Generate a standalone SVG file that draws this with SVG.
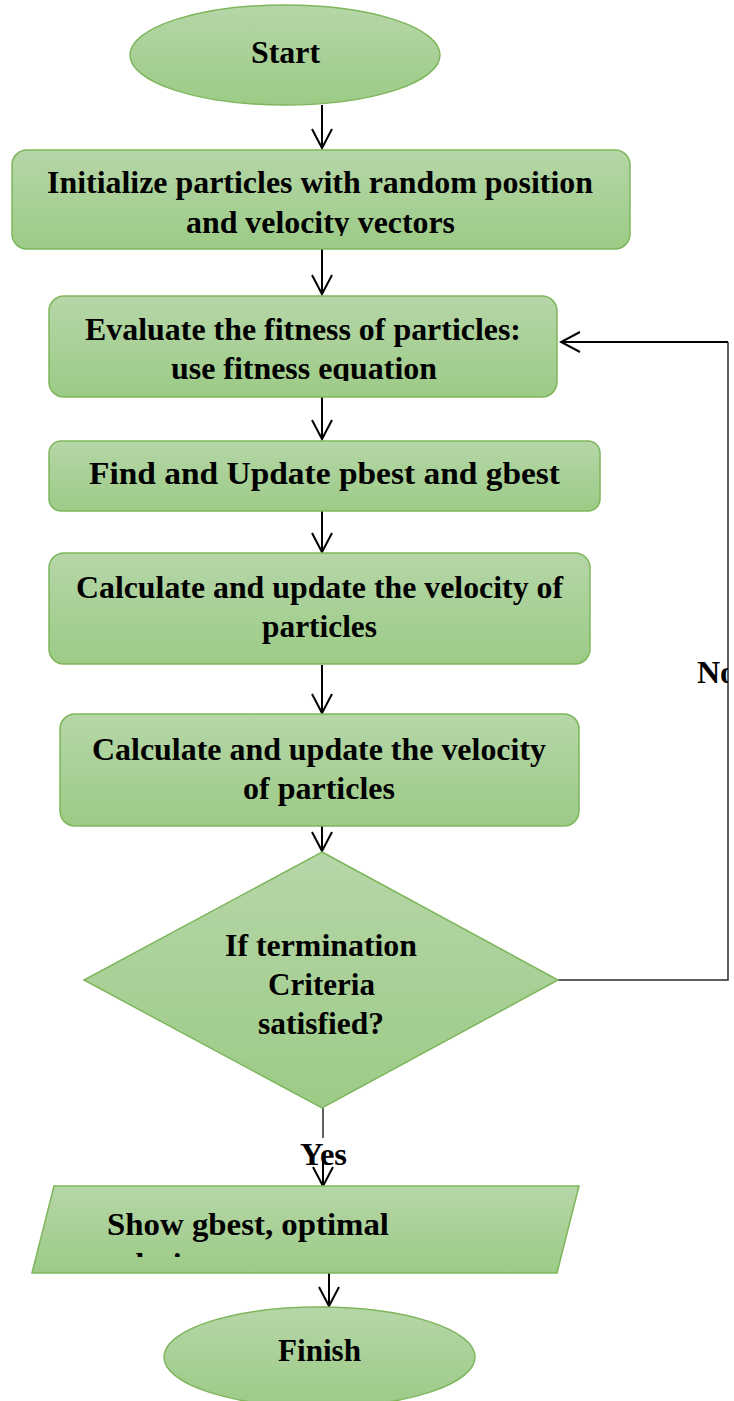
<svg xmlns="http://www.w3.org/2000/svg" width="734" height="1401" viewBox="0 0 734 1401">
<style>
.shape{fill:url(#g);stroke:#7db65b;stroke-width:1.5}
.t{font-family:"Liberation Serif","Times New Roman",serif;font-weight:bold;font-size:32px;fill:#000}
.c{stroke:#000;stroke-width:2;fill:none}
.loop{stroke:#2b2b2b;stroke-width:1.5;fill:none}
</style>
<defs>
<linearGradient id="g" x1="0" y1="0" x2="0" y2="1">
<stop offset="0" stop-color="#b6d6a8"/>
<stop offset="1" stop-color="#9ccb86"/>
</linearGradient>
<marker id="arr" markerUnits="userSpaceOnUse" markerWidth="24" markerHeight="24" viewBox="-21 -12 23 24" refX="0" refY="0" orient="auto">
<path d="M-19,-10 L0,0 L-19,10" fill="none" stroke="#000" stroke-width="2"/>
</marker>
<clipPath id="clip1"><rect x="0" y="150" width="734" height="86"/></clipPath>
<clipPath id="clip2"><rect x="0" y="296" width="734" height="85"/></clipPath>
<clipPath id="clip3"><rect x="0" y="852" width="734" height="184"/></clipPath>
<clipPath id="clip4"><rect x="0" y="1186" width="734" height="71"/></clipPath>
<clipPath id="clipNo"><rect x="600" y="640" width="128" height="60"/></clipPath>
</defs>

<g id="connectors">
<line class="c" x1="322" y1="105" x2="322" y2="148" marker-end="url(#arr)"/>
<line class="c" x1="322" y1="249" x2="322" y2="294" marker-end="url(#arr)"/>
<line class="c" x1="322" y1="397" x2="322" y2="439" marker-end="url(#arr)"/>
<line class="c" x1="322" y1="511" x2="322" y2="552" marker-end="url(#arr)"/>
<line class="c" x1="322" y1="665" x2="322" y2="713" marker-end="url(#arr)"/>
<line class="c" x1="322" y1="826" x2="322" y2="851" marker-end="url(#arr)"/>
<line class="loop" x1="323" y1="1108" x2="323" y2="1138"/>
<line class="c" x1="323" y1="1160" x2="323" y2="1186" marker-end="url(#arr)"/>
<line class="c" x1="329" y1="1273" x2="329" y2="1306" marker-end="url(#arr)"/>
<polyline class="loop" points="558,980 728,980 728,342"/>
<line class="c" x1="728" y1="342" x2="561" y2="342" marker-end="url(#arr)"/>
</g>

<g id="start">
<ellipse class="shape" cx="285" cy="55" rx="155" ry="50"/>
<text class="t" x="251" y="63" textLength="69" lengthAdjust="spacingAndGlyphs">Start</text>
</g>

<g id="init">
<rect class="shape" x="12" y="150" width="618" height="99" rx="15"/>
<g clip-path="url(#clip1)">
<text class="t" x="47" y="193" textLength="546" lengthAdjust="spacingAndGlyphs">Initialize particles with random position</text>
<text class="t" x="186" y="233" textLength="269" lengthAdjust="spacingAndGlyphs">and velocity vectors</text>
</g>
</g>

<g id="evaluate">
<rect class="shape" x="49" y="296" width="508" height="101" rx="15"/>
<g clip-path="url(#clip2)">
<text class="t" x="85" y="340" textLength="436" lengthAdjust="spacingAndGlyphs">Evaluate the fitness of particles:</text>
<text class="t" x="171" y="379" textLength="266" lengthAdjust="spacingAndGlyphs">use fitness equation</text>
</g>
</g>

<g id="find">
<rect class="shape" x="49" y="441" width="551" height="70" rx="12"/>
<text class="t" x="89" y="484" textLength="471" lengthAdjust="spacingAndGlyphs">Find and Update pbest and gbest</text>
</g>

<g id="calc1">
<rect class="shape" x="49" y="553" width="541" height="111" rx="15"/>
<text class="t" x="76" y="598" textLength="487" lengthAdjust="spacingAndGlyphs">Calculate and update the velocity of</text>
<text class="t" x="262" y="637" textLength="115" lengthAdjust="spacingAndGlyphs">particles</text>
</g>

<g id="calc2">
<rect class="shape" x="60" y="714" width="519" height="112" rx="15"/>
<text class="t" x="92" y="760" textLength="454" lengthAdjust="spacingAndGlyphs">Calculate and update the velocity</text>
<text class="t" x="243" y="799" textLength="152" lengthAdjust="spacingAndGlyphs">of particles</text>
</g>

<g id="decision">
<polygon class="shape" points="322,852 558,980 322,1108 84,980"/>
<g clip-path="url(#clip3)">
<text class="t" x="225" y="956" textLength="192" lengthAdjust="spacingAndGlyphs">If termination</text>
<text class="t" x="268" y="995" textLength="107" lengthAdjust="spacingAndGlyphs">Criteria</text>
<text class="t" x="258" y="1034" textLength="126" lengthAdjust="spacingAndGlyphs">satisfied?</text>
</g>
</g>

<g id="label-no">
<text class="t" x="697" y="683" clip-path="url(#clipNo)">No</text>
</g>

<g id="label-yes">
<text class="t" x="300" y="1165" textLength="47" lengthAdjust="spacingAndGlyphs">Yes</text>
</g>

<g id="output">
<polygon class="shape" points="54,1186 579,1186 557,1273 32,1273"/>
<g clip-path="url(#clip4)">
<text class="t" x="107" y="1235" textLength="282" lengthAdjust="spacingAndGlyphs">Show gbest, optimal</text>
<text class="t" x="107" y="1275">solution</text>
</g>
</g>

<g id="finish">
<ellipse class="shape" cx="319.5" cy="1357" rx="155.5" ry="50"/>
<text class="t" x="278" y="1361" textLength="83" lengthAdjust="spacingAndGlyphs">Finish</text>
</g>
</svg>
